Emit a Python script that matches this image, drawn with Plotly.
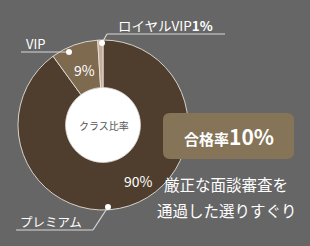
import plotly.graph_objects as go

# data
classes = ["プレミアム", "VIP", "ロイヤルVIP"]
shares = [90, 9, 1]
colors = ["#4f3e2e", "#7e6a4f", "#c8ab98"]
center_label = "クラス比率"
badge_label = "合格率"
badge_value = "10%"
caption = ["厳正な面談審査を", "通過した選りすぐり"]

W, H = 310, 246
FONT = "Noto Sans CJK JP"

def px(x):
    return x / W

def py(y):
    return 1 - y / H

cx, cy, R = 103, 125, 85

fig = go.Figure()
fig.add_trace(go.Pie(
    labels=classes,
    values=shares,
    hole=0.44,
    sort=False,
    direction="clockwise",
    rotation=0,
    marker=dict(colors=colors, line=dict(color="rgba(235,230,225,0.85)", width=1)),
    textinfo="none",
    hoverinfo="skip",
    showlegend=False,
    domain=dict(x=[px(cx - R), px(cx + R)], y=[py(cy + R), py(cy - R)]),
))

line_col = "#d8d8d8"
shapes = []
# leader lines
shapes.append(dict(type="line", xref="paper", yref="paper", x0=px(21), y0=py(52), x1=px(69), y1=py(52), line=dict(color=line_col, width=1.2)))
shapes.append(dict(type="line", xref="paper", yref="paper", x0=px(102), y0=py(43), x1=px(107), y1=py(34), line=dict(color=line_col, width=1.2)))
shapes.append(dict(type="line", xref="paper", yref="paper", x0=px(107), y0=py(34), x1=px(225), y1=py(34), line=dict(color=line_col, width=1.2)))
shapes.append(dict(type="line", xref="paper", yref="paper", x0=px(108), y0=py(207), x1=px(93), y1=py(230), line=dict(color=line_col, width=1.2)))
shapes.append(dict(type="line", xref="paper", yref="paper", x0=px(93), y0=py(230), x1=px(16), y1=py(230), line=dict(color=line_col, width=1.2)))
for (dx, dy) in [(69, 52), (102, 43), (108, 207)]:
    shapes.append(dict(type="circle", xref="paper", yref="paper", x0=px(dx - 3), x1=px(dx + 3), y0=py(dy + 3), y1=py(dy - 3), fillcolor="#ffffff", line=dict(width=0)))
# badge
shapes.append(dict(type="path", xref="paper", yref="paper",
                   path="M {a},{b} L {c},{b} Q {d},{b} {d},{e} L {d},{f} Q {d},{g} {c},{g} L {a},{g} Q {h},{g} {h},{f} L {h},{e} Q {h},{b} {a},{b} Z".format(
                       a=px(170), c=px(287), d=px(294), h=px(163), b=py(113), e=py(120), f=py(152), g=py(159)),
                   fillcolor="#857457", line=dict(width=0)))

annotations = [
    dict(x=px(104), y=py(125), text=center_label, font=dict(family=FONT, size=10, color="#555555")),
    dict(x=px(138), y=py(181), text=f"{shares[0]}%", font=dict(family=FONT, size=14, color="#ffffff")),
    dict(x=px(84), y=py(70), text=f"{shares[1]}%", font=dict(family=FONT, size=14, color="#ffffff")),
    dict(x=px(24), y=py(44), text=classes[1], xanchor="left", font=dict(family=FONT, size=13, color="#ffffff")),
    dict(x=px(116), y=py(25), text=classes[2] + "<b>" + f"{shares[2]}%" + "</b>", xanchor="left", font=dict(family=FONT, size=13.5, color="#ffffff")),
    dict(x=px(18), y=py(221), text=classes[0], xanchor="left", font=dict(family=FONT, size=12.5, color="#ffffff")),
    dict(x=px(229), y=py(136), text=f"<b>{badge_label}</b><b><span style='font-size:21px'>{badge_value}</span></b>", font=dict(family=FONT, size=15, color="#ffffff")),
    dict(x=px(226), y=py(184), text=caption[0], font=dict(family=FONT, size=15.5, color="#ffffff")),
    dict(x=px(227), y=py(210), text=caption[1], font=dict(family=FONT, size=15.5, color="#ffffff")),
]
for a in annotations:
    a.setdefault("xanchor", "center")
    a.update(xref="paper", yref="paper", showarrow=False, yanchor="middle")

fig.update_layout(
    width=W, height=H,
    margin=dict(l=0, r=0, t=0, b=0),
    paper_bgcolor="#666666",
    plot_bgcolor="#666666",
    shapes=shapes,
    annotations=annotations,
)
fig.add_shape(type="circle", xref="paper", yref="paper", x0=px(cx - 37.5), x1=px(cx + 37.5), y0=py(cy + 37.5), y1=py(cy - 37.5), fillcolor="#ffffff", line=dict(width=0), layer="below")

fig.write_html("out.html")
